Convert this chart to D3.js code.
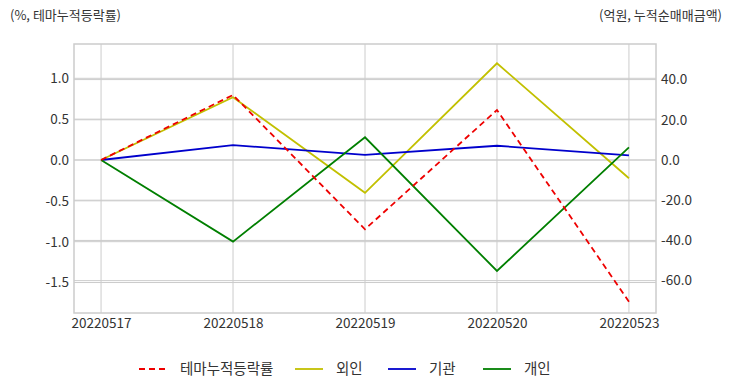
<!DOCTYPE html>
<html><head><meta charset="utf-8">
<script src="https://cdn.jsdelivr.net/npm/d3@7"></script>
<style>
html,body{margin:0;padding:0;background:#fff;}
svg{display:block;font-family:"Noto Sans CJK KR","Noto Sans",sans-serif;}
</style></head>
<body><svg id="c" width="732" height="392"></svg>
<script>
const dates = ["20220517","20220518","20220519","20220520","20220523"];
const themeRate = [0, 0.796, -0.848, 0.612, -1.734];
const foreign = [0, 31.2, -16.3, 48.1, -9.1];
const institution = [0, 7.4, 2.6, 7.1, 2.3];
const individual = [0, -40.6, 11.3, -55.2, 6.3];
const leftTicks = [-1.5, -1.0, -0.5, 0.0, 0.5, 1.0];
const rightTicks = [-60, -40, -20, 0, 20, 40];
const seriesNames = ["테마누적등락률", "외인", "기관", "개인"];

const svg = d3.select("#c");
const L = 74, R = 656, T = 44, B = 313;
const x = d3.scalePoint().domain(dates).range([L, R]).padding(0.205);
const yL = d3.scaleLinear().domain([-1.873, 1.42]).range([B, T]);
const yR = d3.scaleLinear().domain([-76.1, 57.7]).range([B, T]);
const grid = "#cccccc", txt = "#333333";
const ff = '"Noto Sans CJK KR","Noto Sans",sans-serif';

// gridlines
svg.append("g").selectAll("line").data(leftTicks).join("line")
  .attr("x1", L).attr("x2", R).attr("y1", d => yL(d)).attr("y2", d => yL(d))
  .attr("stroke", grid).attr("stroke-width", 1);
svg.append("g").selectAll("line").data(rightTicks).join("line")
  .attr("x1", L).attr("x2", R).attr("y1", d => yR(d)).attr("y2", d => yR(d))
  .attr("stroke", grid).attr("stroke-width", 1);
svg.append("g").selectAll("line").data(dates).join("line")
  .attr("x1", d => x(d)).attr("x2", d => x(d)).attr("y1", T).attr("y2", B)
  .attr("stroke", grid).attr("stroke-width", 1);
svg.append("rect").attr("x", L).attr("y", T).attr("width", R - L).attr("height", B - T)
  .attr("fill", "none").attr("stroke", grid).attr("stroke-width", 1.5);

// axes
const fmt = d => d3.format(".1f")(d).replace("−", "-");
const axL = svg.append("g").attr("transform", `translate(${L},0)`)
  .call(d3.axisLeft(yL).tickValues(leftTicks).tickFormat(fmt).tickSize(0).tickPadding(5));
const axR = svg.append("g").attr("transform", `translate(${R},0)`)
  .call(d3.axisRight(yR).tickValues(rightTicks).tickFormat(fmt).tickSize(0).tickPadding(5));
const axB = svg.append("g").attr("transform", `translate(0,${B})`)
  .call(d3.axisBottom(x).tickSize(0).tickPadding(5));
[axL, axR, axB].forEach(a => {
  a.select(".domain").remove();
  a.selectAll("text").attr("fill", txt).style("font-size", "13.5px").style("font-family", ff);
});

// lines
const mk = (scale, vals) => d3.line().x((d, i) => x(dates[i])).y(d => scale(d))(vals);
const series = [
  {v: themeRate, s: yL, c: "#ee0000", dash: "6,4"},
  {v: foreign, s: yR, c: "#c2c000", dash: null},
  {v: institution, s: yR, c: "#0000cc", dash: null},
  {v: individual, s: yR, c: "#007f00", dash: null}
];
[series[1], series[2], series[3], series[0]].forEach(se => {
  svg.append("path").attr("d", mk(se.s, se.v)).attr("fill", "none")
    .attr("stroke", se.c).attr("stroke-width", 1.8)
    .attr("stroke-dasharray", se.dash);
});

// axis titles
svg.append("text").attr("x", 10).attr("y", 20).attr("fill", txt)
  .style("font-size", "13px").text("(%, 테마누적등락률)");
svg.append("text").attr("x", 722).attr("y", 20).attr("text-anchor", "end").attr("fill", txt)
  .style("font-size", "13px").text("(억원, 누적순매매금액)");

// legend
const legX = [139, 295, 388, 483];
const lg = svg.append("g");
series.forEach((se, i) => {
  lg.append("line").attr("x1", legX[i]).attr("x2", legX[i] + 28).attr("y1", 369).attr("y2", 369)
    .attr("stroke", se.c).attr("stroke-width", 1.8).attr("stroke-dasharray", se.dash);
  lg.append("text").attr("x", legX[i] + 41).attr("y", 374).attr("fill", txt)
    .style("font-size", "14.5px").text(seriesNames[i]);
});
</script></body></html>
